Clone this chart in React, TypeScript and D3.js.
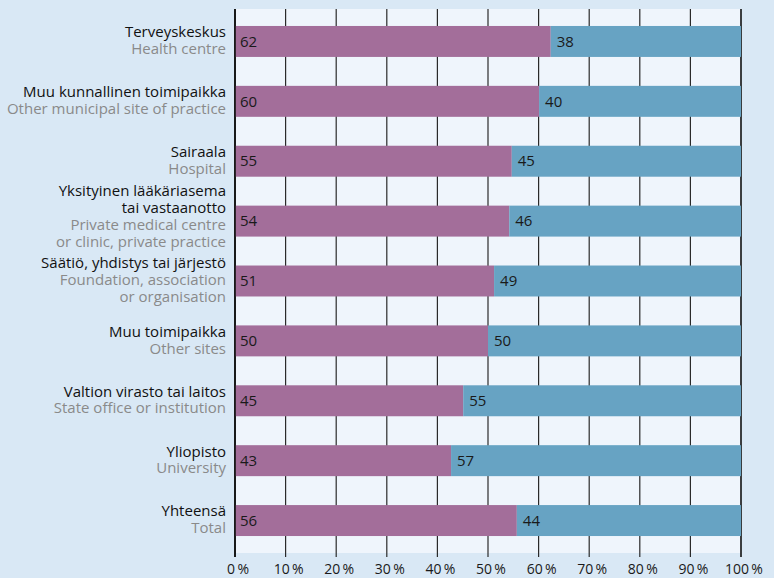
import React from "react";
import * as d3 from "d3";

const categoriesFi: string[][] = [
  ["Terveyskeskus"],
  ["Muu kunnallinen toimipaikka"],
  ["Sairaala"],
  ["Yksityinen lääkäriasema", "tai vastaanotto"],
  ["Säätiö, yhdistys tai järjestö"],
  ["Muu toimipaikka"],
  ["Valtion virasto tai laitos"],
  ["Yliopisto"],
  ["Yhteensä"],
];
const categoriesEn: string[][] = [
  ["Health centre"],
  ["Other municipal site of practice"],
  ["Hospital"],
  ["Private medical centre", "or clinic, private practice"],
  ["Foundation, association", "or organisation"],
  ["Other sites"],
  ["State office or institution"],
  ["University"],
  ["Total"],
];
const women: number[] = [62.4, 60.1, 54.7, 54.2, 51.2, 50.0, 45.1, 42.7, 55.7];
const womenLabels: string[] = ["62", "60", "55", "54", "51", "50", "45", "43", "56"];
const menLabels: string[] = ["38", "40", "45", "46", "49", "50", "55", "57", "44"];
const ticks: number[] = [0, 10, 20, 30, 40, 50, 60, 70, 80, 90, 100];

const W = 774;
const H = 578;
const left = 235;
const right = 741;
const top = 9;
const bottom = 553;
const font = "'Open Sans', 'Noto Sans', sans-serif";

export default function App() {
  const x = d3.scaleLinear().domain([0, 100]).range([left, right]);
  const y = d3
    .scaleBand<number>()
    .domain(d3.range(categoriesFi.length))
    .range([11, 551])
    .paddingInner(0.483)
    .paddingOuter(0.25);
  const bw = y.bandwidth();
  const lh = 16.8;

  return (
    <svg
      width={W}
      height={H}
      style={{ position: "absolute", left: 0, top: 0, background: "#d9e8f5" }}
      fontFamily={font}
    >
      <rect x={0} y={0} width={W} height={H} fill="#d9e8f5" />
      <rect x={left} y={top} width={right - left} height={bottom - top} fill="#eff5fc" />
      {ticks.map((t) => (
        <line
          key={"g" + t}
          x1={x(t)}
          x2={x(t)}
          y1={top}
          y2={bottom + 4}
          stroke={t === 0 || t === 100 ? "#111" : "#2a2a2a"}
          strokeWidth={t === 0 || t === 100 ? 1.6 : 1.2}
        />
      ))}
      {women.map((w, i) => {
        const y0 = y(i)!;
        const cy = y0 + bw / 2;
        const xm = x(w);
        const fi = categoriesFi[i];
        const en = categoriesEn[i];
        const lines = [...fi.map((s) => ({ s, c: "#111" })), ...en.map((s) => ({ s, c: "#8a8a8a" }))];
        const n = lines.length;
        const off = n === 4 ? -5 : -1;
        return (
          <g key={i}>
            <rect x={x(0)} y={y0} width={xm - x(0)} height={bw} fill="#a36e9a" />
            <rect x={xm} y={y0} width={x(100) - xm} height={bw} fill="#67a3c3" />
            <text x={x(0) + 5} y={cy} dy="0.35em" fontSize={15} fill="#1a1a1a">
              {womenLabels[i]}
            </text>
            <text x={xm + 6} y={cy} dy="0.35em" fontSize={15} fill="#1a1a1a">
              {menLabels[i]}
            </text>
            {lines.map((l, k) => (
              <text
                key={k}
                x={226}
                y={cy + off + (k - (n - 1) / 2) * lh}
                dy="0.35em"
                textAnchor="end"
                fontSize={15}
                fill={l.c}
              >
                {l.s}
              </text>
            ))}
          </g>
        );
      })}
      <line x1={left} x2={left} y1={top} y2={bottom + 4} stroke="#111" strokeWidth={1.6} />
      {ticks.map((t) => (
        <text
          key={"t" + t}
          x={x(t) + 3}
          y={569}
          dy="0.35em"
          textAnchor="middle"
          fontSize={14}
          fill="#1a1a1a"
        >
          {t + "\u2009%"}
        </text>
      ))}
    </svg>
  );
}
